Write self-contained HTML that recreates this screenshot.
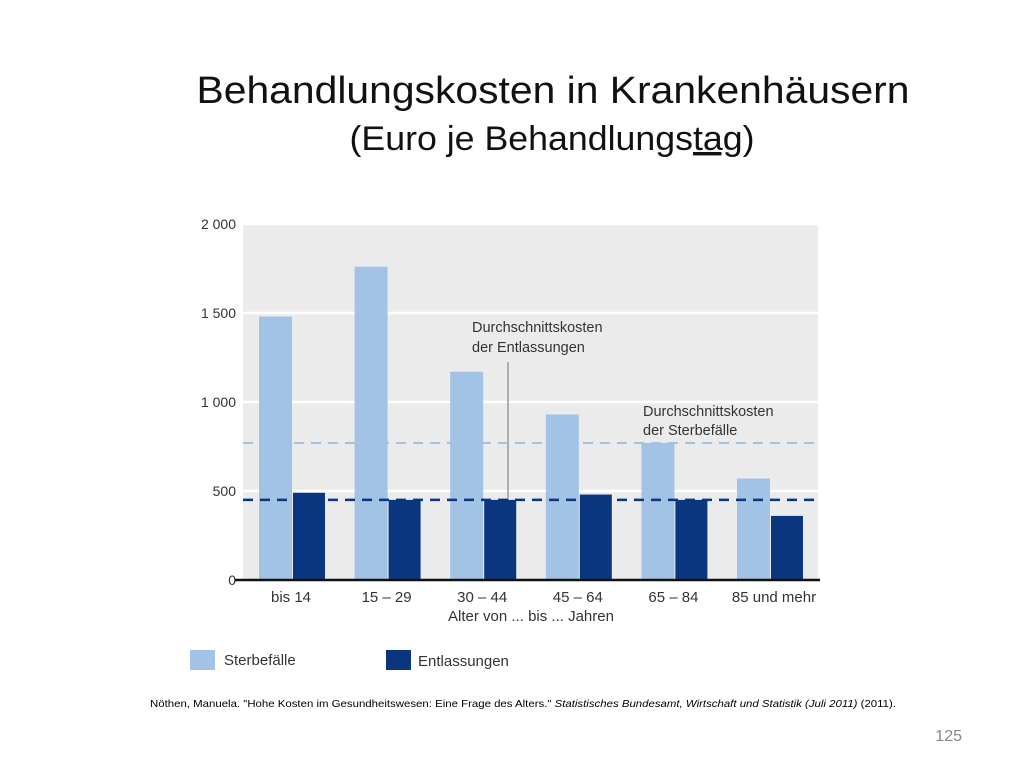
<!DOCTYPE html>
<html><head><meta charset="utf-8"><style>
body{margin:0;background:#fff;width:1024px;height:768px;overflow:hidden;font-family:"Liberation Sans",sans-serif}
</style></head><body>
<svg id="chart" width="1024" height="768" style="position:absolute;left:0;top:0">
<text x="553" y="103" font-size="38" text-anchor="middle" fill="#111" textLength="713" lengthAdjust="spacingAndGlyphs">Behandlungskosten in Krankenhäusern</text>
<text x="552" y="150" font-size="34" text-anchor="middle" fill="#111" textLength="405" lengthAdjust="spacingAndGlyphs">(Euro je Behandlungs<tspan text-decoration="underline">tag</tspan>)</text>
<rect x="243" y="224" width="575" height="356" fill="#ebebeb"/>
<g id="grid"></g>
<g id="bars"></g>
<line x1="508" y1="362" x2="508" y2="500" stroke="#999" stroke-width="1.5"/>
<g id="avg"></g>
<line x1="235" y1="580" x2="820" y2="580" stroke="#111" stroke-width="2.5"/>
<g id="ylabels" font-size="14" fill="#333" text-anchor="end"></g>
<g id="xlabels" font-size="15" fill="#333" text-anchor="middle"></g>
<text x="531" y="621" font-size="15" fill="#333" text-anchor="middle">Alter von ... bis ... Jahren</text>
<text x="472" y="332" font-size="14.5" fill="#333">Durchschnittskosten</text>
<text x="472" y="352" font-size="14.5" fill="#333">der Entlassungen</text>
<text x="643" y="416" font-size="14.5" fill="#333">Durchschnittskosten</text>
<text x="643" y="435" font-size="14.5" fill="#333">der Sterbefälle</text>
<rect x="190" y="650" width="25" height="20" fill="#a3c3e6"/>
<text x="224" y="665" font-size="15" fill="#333">Sterbefälle</text>
<rect x="386" y="650" width="25" height="20" fill="#0a357f"/>
<text x="418" y="666" font-size="15" fill="#333">Entlassungen</text>
<text x="150" y="707" font-size="10.5" fill="#000" textLength="746" lengthAdjust="spacingAndGlyphs">Nöthen, Manuela. "Hohe Kosten im Gesundheitswesen: Eine Frage des Alters." <tspan font-style="italic">Statistisches Bundesamt, Wirtschaft und Statistik (Juli 2011)</tspan> (2011).</text>
<text x="962" y="741" font-size="16" fill="#888" text-anchor="end">125</text>
</svg>
<script>
const categories=["bis 14","15 – 29","30 – 44","45 – 64","65 – 84","85 und mehr"];
const sterbefaelle=[1480,1760,1170,930,770,570];
const entlassungen=[490,450,450,480,450,360];
const avgSterbefaelle=770;
const avgEntlassungen=450;
const yTicks=[0,500,1000,1500,2000];
const yTickLabels=["0","500","1 000","1 500","2 000"];
const NS="http://www.w3.org/2000/svg";
const y=v=>580-v*0.178;
const xc=i=>291+i*95.6;
function mk(t,a,p){const e=document.createElementNS(NS,t);for(const k in a)e.setAttribute(k,a[k]);document.getElementById(p).appendChild(e);return e;}
yTicks.forEach((t,i)=>{
  if(t>0){const g=mk('line',{x1:243,x2:818,y1:y(t),y2:y(t),stroke:'#fff','stroke-width':2.5},'grid');
  
  }
  const l=mk('text',{x:236,y:y(t)+5},'ylabels');l.textContent=yTickLabels[i];
  
  
});
categories.forEach((c,i)=>{
  const a=mk('rect',{x:xc(i)-32,y:y(sterbefaelle[i]),width:33,height:580-y(sterbefaelle[i]),fill:'#a3c3e6'},'bars');
  
  
  const b=mk('rect',{x:xc(i)+2,y:y(entlassungen[i]),width:32,height:580-y(entlassungen[i]),fill:'#0a357f'},'bars');
  
  
  const t=mk('text',{x:xc(i)+(i==5?5:0),y:602},'xlabels');t.textContent=c;
  
  
});
const l1=mk('line',{x1:243,x2:818,y1:y(avgSterbefaelle),y2:y(avgSterbefaelle),stroke:'#a3c3e6','stroke-width':2,'stroke-dasharray':'10 7'},'avg');


const l2=mk('line',{x1:243,x2:818,y1:y(avgEntlassungen),y2:y(avgEntlassungen),stroke:'#0a357f','stroke-width':2.5,'stroke-dasharray':'10 7'},'avg');


</script>
</body></html>
